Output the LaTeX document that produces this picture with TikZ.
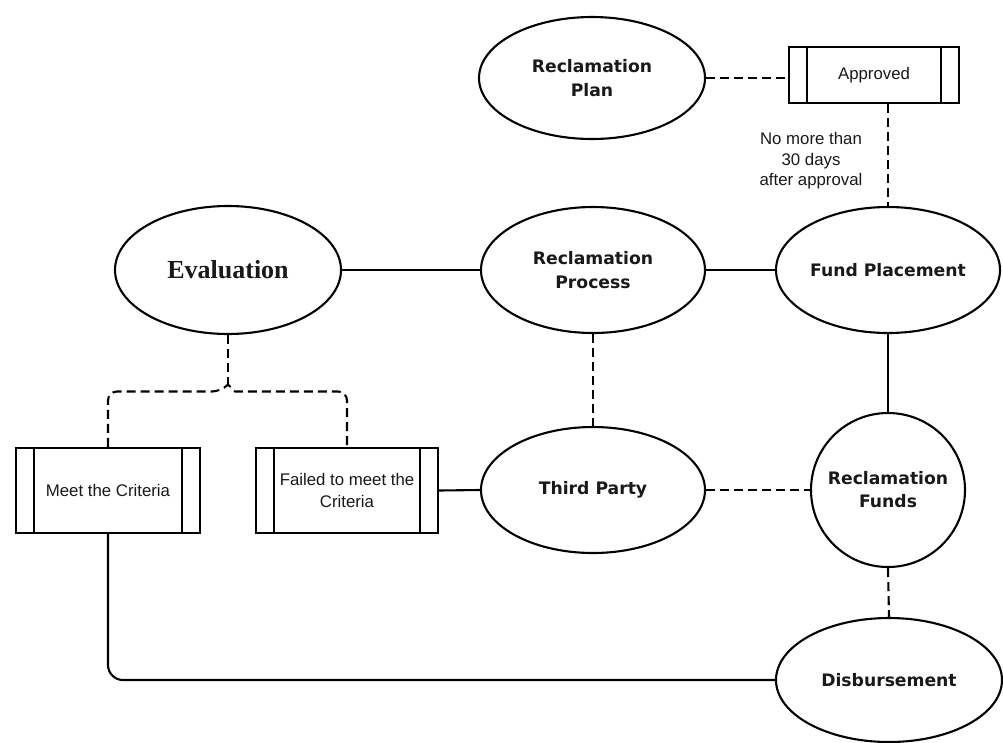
\documentclass[tikz,border=0pt]{standalone}
\usepackage{fontspec}
\usetikzlibrary{shapes.geometric,calc}
\newfontfamily\lblfont{DejaVu Sans}
\newfontfamily\boxfont{Liberation Sans}
\newfontfamily\evalfont{Liberation Serif}
\tikzset{
  conn/.style={line width=2.1pt, black},
  dconn/.style={conn, dash pattern=on 9pt off 5pt},
  oval/.style={ellipse, draw, line width=2.1pt, inner sep=0pt, align=center,
    font=\lblfont\bfseries\fontsize{17.2}{24}\selectfont, text=black!90},
  barbox/.style={rectangle, draw, line width=2.1pt, inner sep=0pt, align=center,
    font=\boxfont\fontsize{16.8}{22}\selectfont, text=black!90,
    path picture={
      \draw[line width=2.1pt] ([xshift=18pt]path picture bounding box.north west) -- ([xshift=18pt]path picture bounding box.south west);
      \draw[line width=2.1pt] ([xshift=-18pt]path picture bounding box.north east) -- ([xshift=-18pt]path picture bounding box.south east);
    }},
  note/.style={align=center, font=\boxfont\fontsize{16.8}{20.5}\selectfont, text=black!90}
}
\begin{document}
\begin{tikzpicture}[x=1pt,y=-1pt]
\useasboundingbox[fill=white] (0,0) rectangle (1003,742);

\node[oval, minimum width=226pt, minimum height=122pt] (plan) at (592,78) {Reclamation\\Plan};
\node[barbox, minimum width=170pt, minimum height=56pt] (approved) at (874,75) {Approved};
\node[oval, minimum width=226pt, minimum height=128pt, font=\evalfont\bfseries\fontsize{26}{30}\selectfont] (eval) at (228,270) {Evaluation};
\node[oval, minimum width=224pt, minimum height=126pt] (proc) at (593,270) {Reclamation\\Process};
\node[oval, minimum width=224pt, minimum height=126pt] (fund) at (888,270) {Fund Placement};
\node[barbox, minimum width=184pt, minimum height=85pt] (meet) at (108,490.5) {Meet the Criteria};
\node[barbox, minimum width=182pt, minimum height=85pt] (failed) at (347,490.5) {Failed to meet the\\Criteria};
\node[oval, minimum width=224pt, minimum height=126pt] (third) at (593,490) {Third Party};
\node[circle, draw, line width=2.1pt, inner sep=0pt, minimum size=154pt, align=center,
  font=\lblfont\bfseries\fontsize{17.2}{23}\selectfont, text=black!90] (funds) at (888,490) {Reclamation\\Funds};
\node[oval, minimum width=226pt, minimum height=124pt] (disb) at (889,680) {Disbursement};

\node[note] (lbl) at (811,161) {No more than\\30 days\\after approval};

\coordinate (jtop) at (228,384.5);
\coordinate (jl) at (221,391.5);
\coordinate (jr) at (235,391.5);

\draw[dconn] (plan.east) -- (plan.east -| approved.west);
\draw[dconn] (fund.north |- approved.south) -- (fund.north);
\draw[conn] (eval.east) -- (eval.east -| proc.west);
\draw[conn] (proc.east) -- (fund.west);
\draw[conn] (fund.south) -- (funds.north);
\draw[dconn] (proc.south) -- (third.north);
\draw[conn] (failed.east) -- (third.west);
\draw[dconn] (third.east) -- (funds.west);
\draw[dconn] (funds.south) -- (disb.north);
\draw[dconn] (eval.south) -- (jtop);
\draw[dconn] (meet.north) [rounded corners=9pt] |- (jl) [sharp corners] -- (jtop) -- (jr) [rounded corners=9pt] -| (failed.north);
\draw[conn] (meet.south) [rounded corners=15pt] |- (disb.west);
\end{tikzpicture}
\end{document}
